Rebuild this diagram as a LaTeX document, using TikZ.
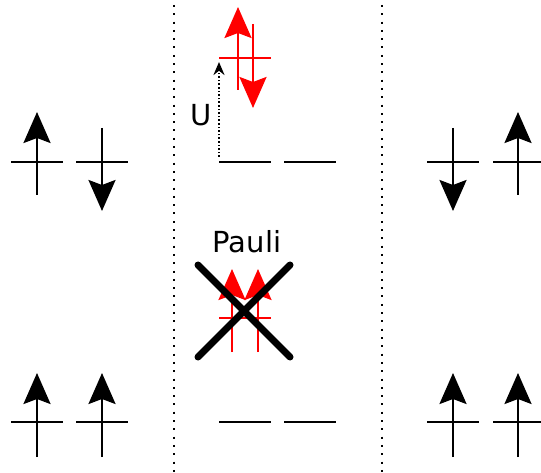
\documentclass[tikz,border=0pt]{standalone}
\usepackage{fontspec}
\setmainfont{DejaVu Sans}
\usetikzlibrary{arrows.meta}
\begin{document}
\begin{tikzpicture}[x=1pt,y=-1pt,
  level/.style={line width=2.6pt},
  spin/.style={line width=2.4pt,-{Stealth[length=31pt,width=27pt,inset=5pt]}},
  lbl/.style={font=\fontsize{29}{32}\selectfont,inner sep=0pt},
  sep/.style={line width=2pt,line cap=butt,dash pattern=on 2pt off 6.3pt}]
\useasboundingbox (0,0) rectangle (541,473);
% separators
\draw[sep] (174,5) -- (174,472);
\draw[sep] (382,5) -- (382,472);
% left column
\foreach \x in {11,76}{\draw[level] (\x,162) -- ++(52,0); \draw[level] (\x,422) -- ++(52,0);}
\draw[spin] (37,195) -- (37,112);
\draw[spin] (102,128) -- (102,211);
\draw[spin] (37,457) -- (37,373);
\draw[spin] (102,457) -- (102,373);
% right column
\foreach \x in {427,493}{\draw[level] (\x,162) -- ++(52,0); \draw[level] (\x,422) -- ++(52,0);}
\draw[spin] (453,128) -- (453,211);
\draw[spin] (518,195) -- (518,112);
\draw[spin] (453,457) -- (453,373);
\draw[spin] (518,457) -- (518,373);
% middle column
\foreach \x in {219,284}{\draw[level] (\x,162) -- ++(52,0); \draw[level] (\x,422) -- ++(52,0);}
% doubly occupied, raised by U
\draw[level,red] (219,58) -- ++(52,0);
\draw[spin,red] (238,90) -- (238,7);
\draw[spin,red] (253,24) -- (253,108);
\draw[line width=2.2pt,dash pattern=on 1.6pt off 2pt,-{Stealth[length=13pt,width=11pt]}] (219,157) -- (219,62);
\node[lbl] (u) at (201,115) {U};
% Pauli forbidden
\node[lbl] (pauli) at (247,242) {Pauli};
\draw[level,red] (219,318) -- ++(52,0);
\draw[spin,red] (232,352) -- (232,269);
\draw[spin,red] (258,352) -- (258,269);
\draw[line width=7pt,line cap=round] (198,265) -- (290,357);
\draw[line width=7pt,line cap=round] (290,265) -- (198,357);
\end{tikzpicture}
\end{document}
